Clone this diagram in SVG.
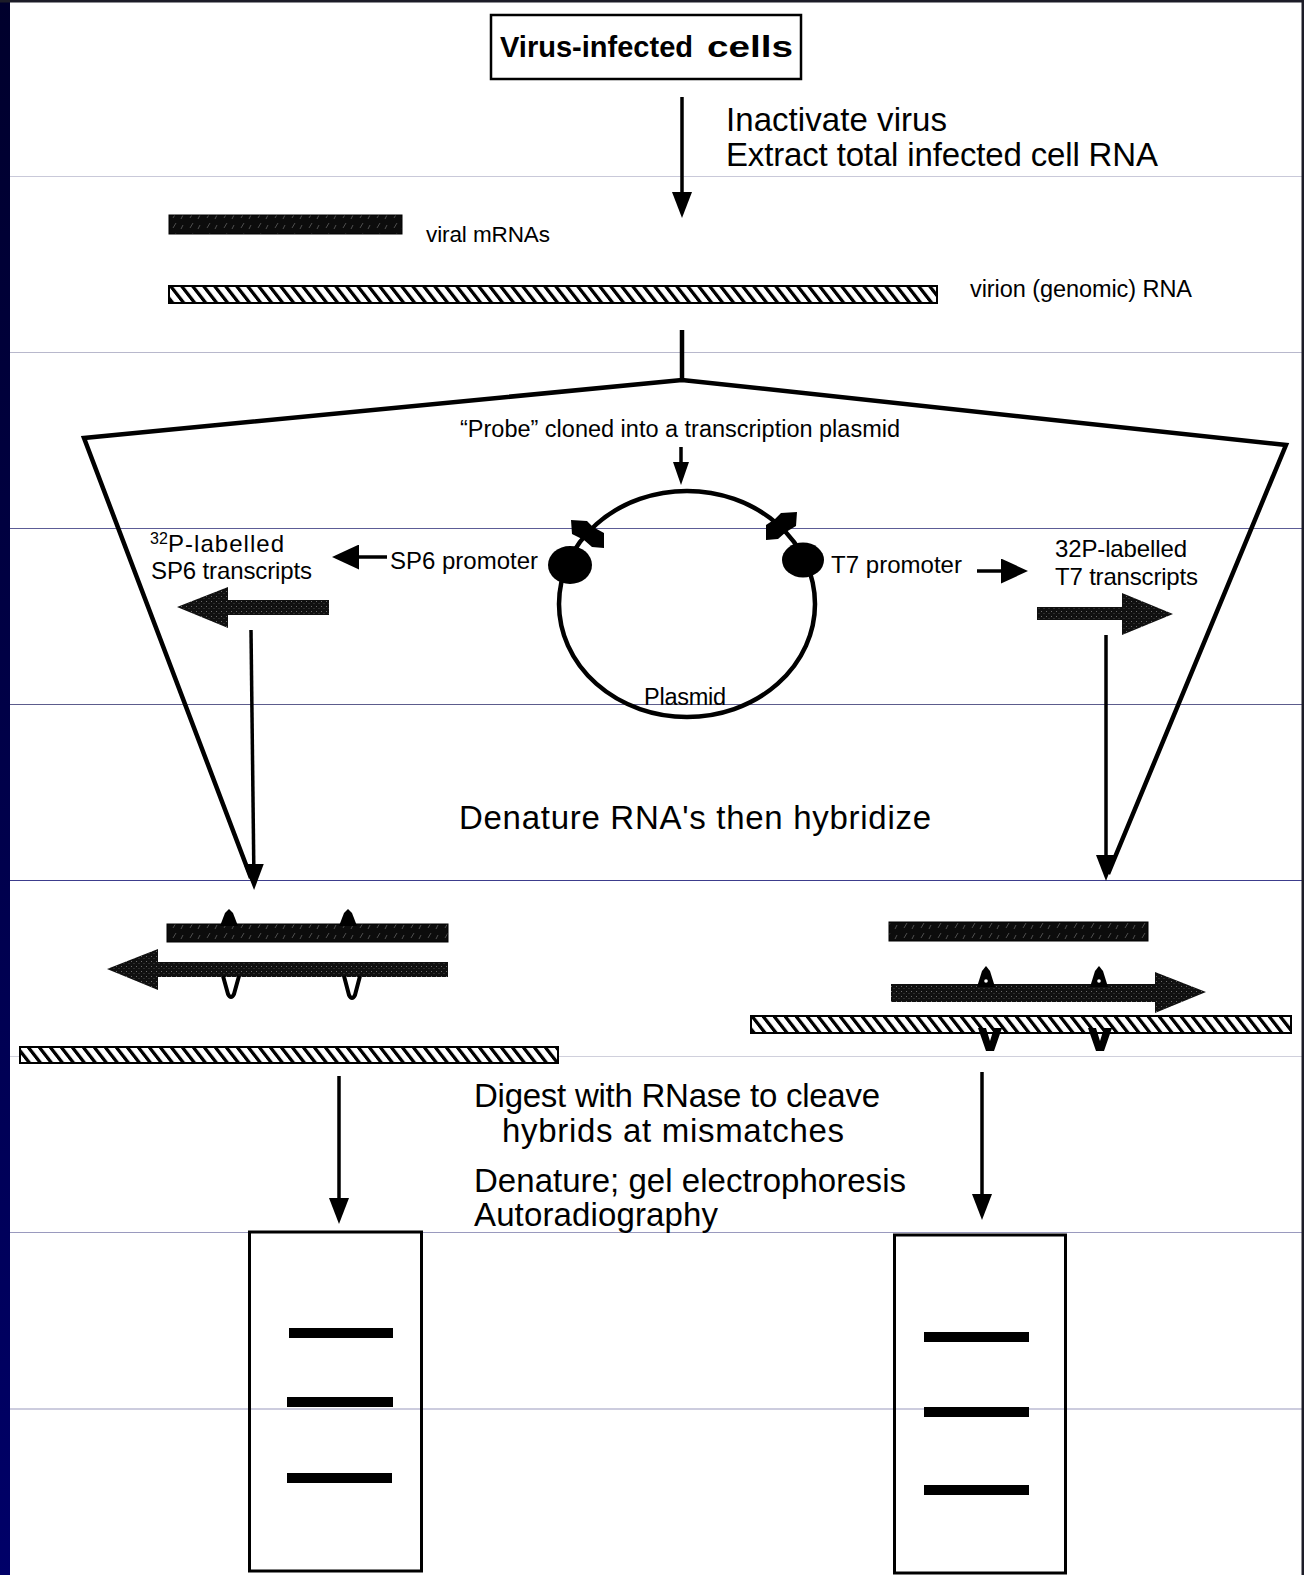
<svg xmlns="http://www.w3.org/2000/svg" width="1304" height="1575" viewBox="0 0 1304 1575">
<style>
text{font-family:"Liberation Sans",Arial,Helvetica,sans-serif;fill:#000}
.big{font-size:33px}
.med{font-size:24px}
.ln{stroke:#000;stroke-width:3.5;fill:none}
.thick{stroke:#000;stroke-width:4.5;fill:none;stroke-linejoin:miter}
.rule{stroke-width:1.2}
</style>
<defs>
<linearGradient id="navy" x1="0" y1="0" x2="0" y2="1">
<stop offset="0" stop-color="#00002c"/>
<stop offset="1" stop-color="#000068"/>
</linearGradient>
<pattern id="hatch" patternUnits="userSpaceOnUse" width="11" height="20" patternTransform="skewX(38)">
<rect width="11" height="20" fill="#fff"/>
<rect x="0" y="0" width="4.2" height="20" fill="#000"/>
</pattern>
<pattern id="speck" patternUnits="userSpaceOnUse" width="17" height="10">
<rect width="17" height="10" fill="#0c0c0c"/>
<path d="M3,8 L6,3 M11,9 L13,5" stroke="#6a6a6a" stroke-width="0.7"/>
</pattern>
<pattern id="stip" patternUnits="userSpaceOnUse" width="5" height="5">
<rect width="5" height="5" fill="#101010"/>
<rect x="1" y="1" width="1" height="1" fill="#6a6a6a"/>
<rect x="3.5" y="3" width="1" height="1" fill="#4a4a4a"/>
</pattern>
<marker id="ah" viewBox="0 0 26 20" refX="20" refY="10" markerWidth="26" markerHeight="20" markerUnits="userSpaceOnUse" orient="auto">
<path d="M0,0 L26,10 L0,20 Z" fill="#000"/>
</marker>
<marker id="am" viewBox="0 0 27 25" refX="21" refY="12.5" markerWidth="27" markerHeight="25" markerUnits="userSpaceOnUse" orient="auto">
<path d="M0,0 L27,12.5 L0,25 Z" fill="#000"/>
</marker>
<marker id="as" viewBox="0 0 23 16" refX="17" refY="8" markerWidth="23" markerHeight="16" markerUnits="userSpaceOnUse" orient="auto">
<path d="M0,0 L23,8 L0,16 Z" fill="#000"/>
</marker>
</defs>

<rect x="0" y="0" width="1304" height="1575" fill="#fff"/>

<g id="rules">
<line class="rule" x1="10" y1="176.5" x2="1302" y2="176.5" stroke="#c9c9d9"/>
<line class="rule" x1="10" y1="352.5" x2="1302" y2="352.5" stroke="#b8b8cc"/>
<line class="rule" x1="10" y1="528.5" x2="1302" y2="528.5" stroke="#5c5c96"/>
<line class="rule" x1="10" y1="704.5" x2="1302" y2="704.5" stroke="#5c5c8c"/>
<line class="rule" x1="10" y1="880.5" x2="1302" y2="880.5" stroke="#3c3c8c"/>
<line class="rule" x1="10" y1="1056.5" x2="1302" y2="1056.5" stroke="#d0d0dc"/>
<line class="rule" x1="10" y1="1232.5" x2="1302" y2="1232.5" stroke="#9a9abe"/>
<line class="rule" x1="10" y1="1409" x2="1302" y2="1409" stroke="#9a9abe"/>
</g>

<g id="frame">
<rect x="0" y="0" width="10" height="1575" fill="url(#navy)"/>
<rect x="0" y="0" width="1304" height="2.5" fill="#1c1c28"/>
<rect x="1301.5" y="0" width="2.5" height="1575" fill="#1c1c28"/>
</g>

<g id="connectors">
<line class="ln" x1="682" y1="97" x2="682" y2="212" marker-end="url(#ah)"/>
<line class="thick" x1="682" y1="330" x2="682" y2="382"/>
<polyline class="thick" points="251,878 84,438 682,380 1286,445 1108,874"/>
<line class="ln" x1="681" y1="447" x2="681" y2="479" stroke-width="3" marker-end="url(#as)"/>
<line class="ln" x1="387" y1="557" x2="338" y2="557" stroke-width="5" marker-end="url(#am)"/>
<line class="ln" x1="977" y1="571" x2="1022" y2="571" stroke-width="4" marker-end="url(#am)"/>
<line class="ln" x1="251" y1="630" x2="254" y2="884" marker-end="url(#ah)"/>
<line class="ln" x1="1106" y1="635" x2="1106" y2="875" marker-end="url(#ah)"/>
<line class="ln" x1="339" y1="1076" x2="339" y2="1218" marker-end="url(#ah)"/>
<line class="ln" x1="982" y1="1072" x2="982" y2="1214" marker-end="url(#ah)"/>
</g>

<g id="title">
<rect x="491" y="15" width="310" height="64" fill="none" stroke="#000" stroke-width="2.5"/>
<text x="500" y="57" font-size="30" font-weight="bold" textLength="193" lengthAdjust="spacingAndGlyphs">Virus-infected</text>
<text x="707" y="57" font-size="30" font-weight="bold" textLength="86" lengthAdjust="spacingAndGlyphs">cells</text>
</g>

<g id="step1">
<text class="big" x="726" y="131" textLength="221">Inactivate virus</text>
<text class="big" x="726" y="166" textLength="432">Extract total infected cell RNA</text>
</g>

<g id="viral-mrna">
<rect x="169" y="215" width="233" height="19" fill="url(#speck)" stroke="#000" stroke-width="1"/>
<text x="426" y="242" font-size="22.5" textLength="124">viral mRNAs</text>
</g>

<g id="virion-rna">
<rect x="169" y="286" width="768" height="17" fill="url(#hatch)" stroke="#000" stroke-width="2"/>
<text x="970" y="297" font-size="23.5" textLength="222">virion (genomic) RNA</text>
</g>

<g id="probe-label">
<text x="460" y="437" font-size="23.5" textLength="440">“Probe” cloned into a transcription plasmid</text>
</g>

<g id="plasmid">
<ellipse cx="687" cy="604" rx="128" ry="113" fill="none" stroke="#000" stroke-width="4.5"/>
<ellipse cx="570" cy="565" rx="22" ry="19" fill="#000"/>
<ellipse cx="803" cy="560" rx="21" ry="17.5" fill="#000"/>
<polygon points="571,520 587,521 593,527 604,533 604,548 592,547 584,540 572,534" fill="#000"/>
<polygon points="797,512 781,513 775,519 766,525 766,540 778,539 786,532 796,526" fill="#000"/>
<text x="644" y="705" font-size="23.5" textLength="82">Plasmid</text>
</g>

<g id="sp6-promoter">
<text class="med" x="390" y="569" textLength="148">SP6 promoter</text>
</g>

<g id="t7-promoter">
<text class="med" x="831" y="573" textLength="131">T7 promoter</text>
</g>

<g id="sp6-transcripts">
<text x="150" y="544" font-size="16">32</text>
<text class="med" x="168" y="552" textLength="116">P-labelled</text>
<text class="med" x="151" y="579" textLength="161">SP6 transcripts</text>
<path d="M177,607 L228,587 L228,600 L329,600 L329,615 L228,615 L228,628 Z" fill="url(#stip)"/>
</g>

<g id="t7-transcripts">
<text class="med" x="1055" y="557" textLength="132">32P-labelled</text>
<text class="med" x="1055" y="585" textLength="143">T7 transcripts</text>
<path d="M1037,607 L1122,607 L1122,593 L1173,614 L1122,635 L1122,620 L1037,620 Z" fill="url(#stip)"/>
</g>

<g id="hybridize-label">
<text class="big" x="459" y="829" textLength="472">Denature RNA's then hybridize</text>
</g>

<g id="hybrid-left">
<rect x="167" y="924" width="281" height="18" fill="url(#speck)" stroke="#000" stroke-width="1"/>
<path d="M220,926 L225,913 L229,909 L233,913 L238,926 Z" fill="#000"/>
<path d="M339,926 L344,913 L348,909 L352,913 L357,926 Z" fill="#000"/>
<path d="M107,969 L158,949 L158,962 L448,962 L448,977 L158,977 L158,990 Z" fill="url(#stip)"/>
<path d="M223,976 L228,994 Q231,1000 234,994 L239,976" fill="none" stroke="#000" stroke-width="4"/>
<path d="M344,976 L349,995 Q352,1001 355,995 L360,976" fill="none" stroke="#000" stroke-width="4"/>
<rect x="20" y="1047" width="538" height="16" fill="url(#hatch)" stroke="#000" stroke-width="2"/>
</g>

<g id="hybrid-right">
<rect x="889" y="922" width="259" height="19" fill="url(#speck)" stroke="#000" stroke-width="1"/>
<path d="M891,984 L1155,984 L1155,972 L1206,992 L1155,1013 L1155,1002 L891,1002 Z" fill="url(#stip)"/>
<path d="M977,987 L982,971 L986,966 L990,971 L995,987 Z" fill="#000"/>
<circle cx="986" cy="981" r="1.8" fill="#fff"/>
<path d="M1090,987 L1095,971 L1099,966 L1103,971 L1108,987 Z" fill="#000"/>
<circle cx="1099" cy="981" r="1.8" fill="#fff"/>
<rect x="751" y="1016" width="540" height="17" fill="url(#hatch)" stroke="#000" stroke-width="2"/>
<path d="M978,1028 L986,1028 L990,1041 L994,1028 L1002,1028 L994,1051 L986,1051 Z" fill="#000"/>
<path d="M1088,1028 L1096,1028 L1100,1041 L1104,1028 L1112,1028 L1104,1051 L1096,1051 Z" fill="#000"/>
</g>

<g id="digest-label">
<text class="big" x="474" y="1107" textLength="406">Digest with RNase to cleave</text>
<text class="big" x="502" y="1142" textLength="342">hybrids at mismatches</text>
<text class="big" x="474" y="1192" textLength="432">Denature; gel electrophoresis</text>
<text class="big" x="474" y="1226" textLength="244">Autoradiography</text>
</g>

<g id="gel-left">
<rect x="249.5" y="1232" width="172" height="339" fill="none" stroke="#000" stroke-width="3"/>
<rect x="289" y="1328" width="104" height="10" fill="#000"/>
<rect x="287" y="1397" width="106" height="10" fill="#000"/>
<rect x="287" y="1473" width="105" height="10" fill="#000"/>
</g>

<g id="gel-right">
<rect x="894.5" y="1235" width="171" height="338" fill="none" stroke="#000" stroke-width="3"/>
<rect x="924" y="1332" width="105" height="10" fill="#000"/>
<rect x="924" y="1407" width="105" height="10" fill="#000"/>
<rect x="924" y="1485" width="105" height="10" fill="#000"/>
</g>
</svg>
